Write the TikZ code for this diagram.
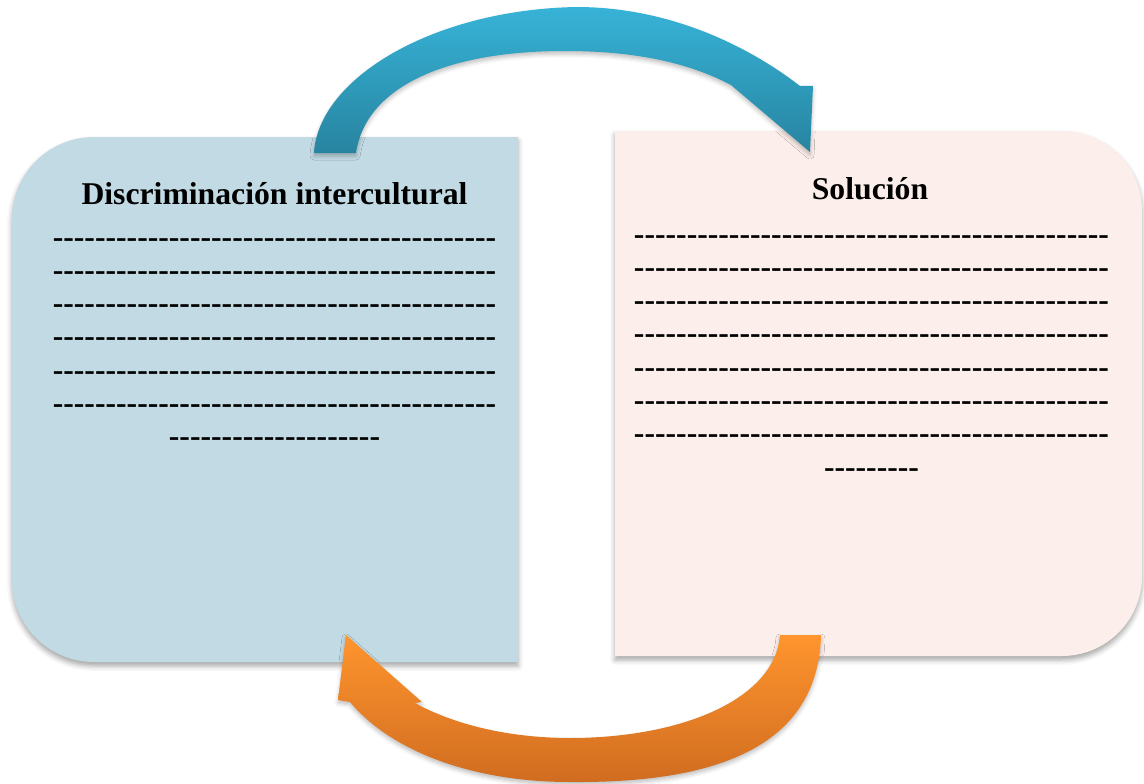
\documentclass[tikz,border=0pt]{standalone}
\usepackage{fontspec}
\setmainfont{Liberation Serif}[Ligatures=TeXOff]
\usetikzlibrary{shadows.blur}
\definecolor{leftfill}{HTML}{C1DAE4}
\definecolor{rightfill}{HTML}{FCEEEA}
\definecolor{tealtop}{HTML}{37B3D7}
\definecolor{tealbot}{HTML}{2784A0}
\definecolor{orgtop}{HTML}{FF952E}
\definecolor{orgbot}{HTML}{D06C20}
\newcommand\bigfont{\fontsize{31.7}{33.3}\selectfont\bfseries}
\ExplSyntaxOn
\cs_new:Npn \dashrun #1 { \prg_replicate:nn {#1} { - } }
\ExplSyntaxOff
\begin{document}
\begin{tikzpicture}[x=1pt,y=-1pt,
  boxshade/.style={blur shadow={shadow xshift=0pt,shadow yshift=-4pt,shadow blur radius=5pt,shadow opacity=35}},
  arrowshade/.style={blur shadow={shadow xshift=0pt,shadow yshift=-3pt,shadow blur radius=4pt,shadow opacity=25}},
  titletext/.style={anchor=base,inner sep=0pt,font=\bigfont},
  bodytext/.style={anchor=base,inner sep=0pt,align=center,font=\bigfont}]
\useasboundingbox (0,0) rectangle (1144,784);
% left box
\path[boxshade, fill=leftfill]
  (518,137) -- (94,137) .. controls (48.7,137) and (12,173.7) .. (12,219)
  -- (12,580) .. controls (12,625.3) and (48.7,662) .. (94,662)
  -- (518,662) -- cycle;
% right box
\path[boxshade, fill=rightfill]
  (615,131) -- (1062,131) .. controls (1106.2,131) and (1142,166.8) .. (1142,211)
  -- (1142,576) .. controls (1142,620.2) and (1106.2,656) .. (1062,656)
  -- (615,656) -- cycle;
% texts (base anchor = baseline of last line)
\node[titletext] (t1) at (274.5,204) {Discriminación intercultural};
\node[bodytext] (b1) at (274.5,446.8) {\dashrun{42}\\\dashrun{42}\\\dashrun{42}\\\dashrun{42}\\\dashrun{42}\\\dashrun{42}\\\dashrun{20}};
\node[titletext] (t2) at (870,199.5) {Solución};
\node[bodytext] (b2) at (871.5,477.1) {\dashrun{45}\\\dashrun{45}\\\dashrun{45}\\\dashrun{45}\\\dashrun{45}\\\dashrun{45}\\\dashrun{45}\\\dashrun{9}};
% top arrow
\path[arrowshade, shading=axis, top color=tealtop, bottom color=tealbot]
  (314,153) .. controls (318,80) and (430,10) .. (576,7)
  .. controls (680,7) and (760,55) .. (800,86)
  -- (813,86) -- (810,152) -- (731,85)
  .. controls (680,58) and (620,51) .. (565,51)
  .. controls (440,51) and (365,90) .. (356,153) -- cycle;
% bottom arrow
\path[arrowshade, shading=axis, top color=orgtop, bottom color=orgbot]
  (821,635) .. controls (818,760) and (690,783) .. (570,782)
  .. controls (470,782) and (390,750) .. (350,702)
  -- (338,700) -- (346,635) -- (422,702) -- (415,703)
  .. controls (455,725) and (510,738) .. (570,738)
  .. controls (680,738) and (775,700) .. (780,635) -- cycle;
\end{tikzpicture}
\end{document}
